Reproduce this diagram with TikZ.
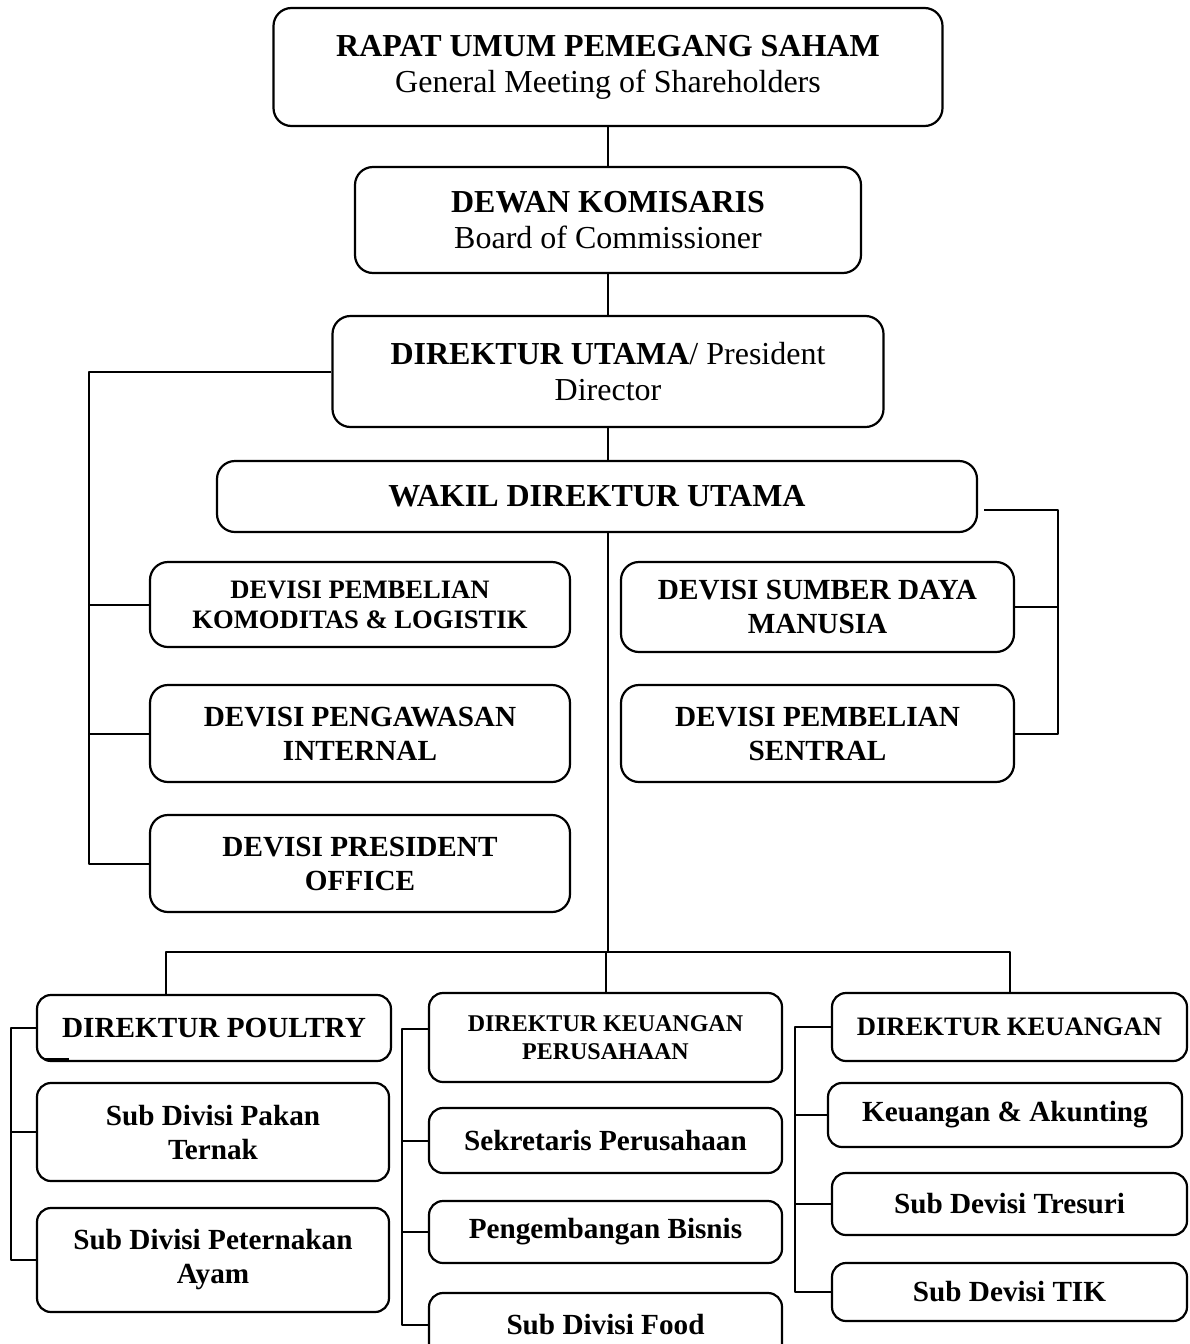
\documentclass[tikz,border=0pt]{standalone}
\usepackage{fontspec}
\setmainfont{Liberation Serif}
\tikzset{
	kotak/.style={draw, line width=1.1pt, rounded corners=9pt, align=center, inner sep=0pt},
	besar/.style={font=\fontsize{16}{18}\selectfont\bfseries},
	sedang/.style={font=\fontsize{14.6}{17}\selectfont\bfseries},
	kecil/.style={font=\fontsize{13.3}{15}\selectfont\bfseries},
	mini/.style={font=\fontsize{12}{14}\selectfont\bfseries},
	garis/.style={line width=1pt}
}
\begin{document}
\begin{tikzpicture}[x=0.5pt, y=-0.5pt, line join=round]
	\useasboundingbox (0,0) rectangle (1189,1344);
	
	% Pimpinan
	\node[kotak,besar,minimum width=334.5pt,minimum height=59pt] (rups) at (608,67) {RAPAT UMUM PEMEGANG SAHAM\\{\mdseries General Meeting of Shareholders}};
	\node[kotak,besar,minimum width=253pt,minimum height=53pt] (dk) at (608,220) {DEWAN KOMISARIS\\{\mdseries Board of Commissioner}};
	\node[kotak,besar,minimum width=275.5pt,minimum height=55.5pt] (du) at (608,371.5) {DIREKTUR UTAMA{\mdseries/ President}\\{\mdseries Director}};
	\node[kotak,besar,minimum width=380pt,minimum height=35.5pt] (wdu) at (597,496.5) {WAKIL DIREKTUR UTAMA};
	
	% Devisi kiri dan kanan
	\node[kotak,kecil,minimum width=210pt,minimum height=42.5pt] (dpkl) at (360,604.5) {DEVISI PEMBELIAN\\KOMODITAS \& LOGISTIK};
	\node[kotak,sedang,minimum width=210pt,minimum height=48.5pt] (dpi) at (360,733.5) {DEVISI PENGAWASAN\\INTERNAL};
	\node[kotak,sedang,minimum width=210pt,minimum height=48.5pt] (dpo) at (360,863.5) {DEVISI PRESIDENT\\OFFICE};
	\node[kotak,sedang,minimum width=196.5pt,minimum height=45pt] (dsdm) at (817.5,607) {DEVISI SUMBER DAYA\\MANUSIA};
	\node[kotak,sedang,minimum width=196.5pt,minimum height=48.5pt] (dps) at (817.5,733.5) {DEVISI PEMBELIAN\\SENTRAL};
	
	% Direktur bawah
	\node[kotak,sedang,rounded corners=7pt,minimum width=177pt,minimum height=33pt] (dp) at (214,1028) {DIREKTUR POULTRY};
	\node[kotak,sedang,rounded corners=7pt,minimum width=176pt,minimum height=49pt] (sdpt) at (213,1132) {Sub Divisi Pakan\\Ternak};
	\node[kotak,sedang,rounded corners=7pt,minimum width=176pt,minimum height=52pt] (sdpa) at (213,1260) {Sub Divisi Peternakan\\Ayam};
	
	\node[kotak,mini,rounded corners=7pt,minimum width=176.5pt,minimum height=44.5pt] (dkp) at (605.5,1037.5) {DIREKTUR KEUANGAN\\PERUSAHAAN};
	\node[kotak,sedang,rounded corners=7pt,minimum width=176.5pt,minimum height=32.5pt] (sp) at (605.5,1140.5) {Sekretaris Perusahaan};
	\node[kotak,sedang,rounded corners=7pt,minimum width=176.5pt,minimum height=31pt] (pb) at (605.5,1232) {Pengembangan Bisnis};
	\node[kotak,sedang,rounded corners=7pt,minimum width=176.5pt,minimum height=32pt] (sdf) at (605.5,1325) {Sub Divisi Food};
	
	\node[kotak,kecil,rounded corners=7pt,minimum width=177.5pt,minimum height=34pt] (dkeu) at (1009.5,1027) {DIREKTUR KEUANGAN};
	\node[kotak,sedang,rounded corners=7pt,minimum width=177pt,minimum height=32pt] (ka) at (1005,1115) {Keuangan \& Akunting};
	\node[kotak,sedang,rounded corners=7pt,minimum width=177.5pt,minimum height=31pt] (sdt) at (1009.5,1204) {Sub Devisi Tresuri};
	\node[kotak,sedang,rounded corners=7pt,minimum width=177.5pt,minimum height=29pt] (tik) at (1009.5,1292) {Sub Devisi TIK};
	
	% Garis penghubung
	\coordinate (trunk) at (608,952);
	\coordinate (kiri) at (89,0);
	\coordinate (kanan) at (1058,0);
	\draw[garis] (rups) -- (dk);
	\draw[garis] (dk) -- (du);
	\draw[garis] (du) -- (du.south |- wdu.north);
	\draw[garis] (wdu.south -| trunk) -- (trunk);
	\draw[garis] (du.west) -- (du.west -| kiri) |- (dpo.west);
	\foreach \n in {dpkl,dpi}\draw[garis] (\n.west) -- (\n.west -| kiri);
	\draw[garis] ([shift={(3pt,-6.5pt)}]wdu.east) -| (dps.east -| kanan) -- (dps.east);
	\draw[garis] (dsdm.east) -- (dsdm.east -| kanan);
	\draw[garis] ([xshift=-24pt]dp.north) |- (trunk) -| (dkeu.north);
	\draw[garis] (trunk) -- (trunk -| dkp.north) -- (dkp.north);
	
	% Kelompok bawah
	\draw[garis] (dp.west) -- ++(-12.5pt,0) coordinate (k1) |- (sdpa.west);
	\draw[garis] (sdpt.west) -- (sdpt.west -| k1);
	\draw[line width=1.3pt] (45,1059) -- (69,1059);
	\draw[garis] ([yshift=4.5pt]dkp.west) -- ++(-13pt,0) coordinate (k2) |- (sdf.west);
	\foreach \n in {sp,pb}\draw[garis] (\n.west) -- (\n.west -| k2);
	\draw[garis] (dkeu.west) -- ++(-18pt,0) coordinate (k3) |- (tik.west);
	\foreach \n in {ka,sdt}\draw[garis] (\n.west) -- (\n.west -| k3);
\end{tikzpicture}
\end{document}
